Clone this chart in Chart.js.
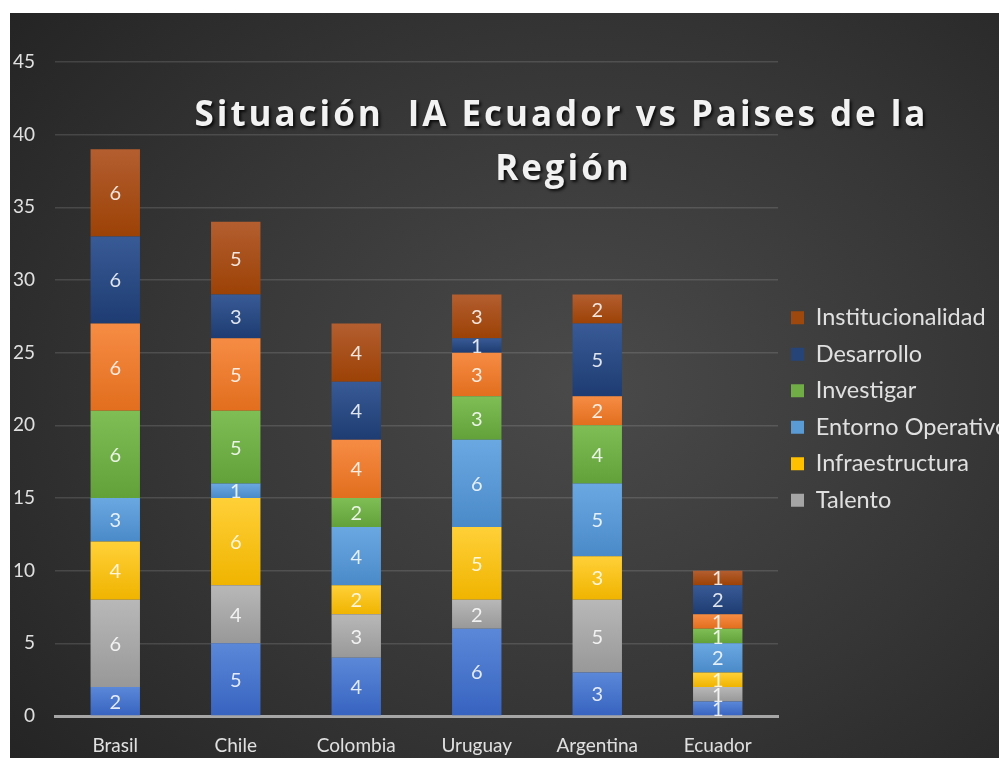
<!DOCTYPE html>
<html>
<head>
<meta charset="utf-8">
<script src="https://cdn.jsdelivr.net/npm/chart.js@4.4.1/dist/chart.umd.min.js"></script>
<style>
  body { margin: 0; background: #ffffff; }
  #marco {
    position: absolute; left: 10px; top: 13px; width: 989px; height: 745px;
    background: radial-gradient(ellipse 75% 80% at 58% 50%, #4a4a4a 0%, #363636 55%, #242424 100%);
  }
</style>
</head>
<body>
<div id="marco"><canvas id="grafIA" width="989" height="745"></canvas></div>
<script>
// Datos del grafico (de abajo hacia arriba en cada barra)
var paises = ['Brasil', 'Chile', 'Colombia', 'Uruguay', 'Argentina', 'Ecuador'];
var serieBase = [2, 5, 4, 6, 3, 1];          // sin nombre en la leyenda
var talento = [6, 4, 3, 2, 5, 1];
var infraestructura = [4, 6, 2, 5, 3, 1];
var entornoOperativo = [3, 1, 4, 6, 5, 2];
var investigar = [6, 5, 2, 3, 4, 1];
var serieNaranja = [6, 5, 4, 3, 2, 1];       // sin nombre en la leyenda
var desarrollo = [6, 3, 4, 1, 5, 2];
var institucionalidad = [6, 5, 4, 3, 2, 1];
var ticksY = [0, 5, 10, 15, 20, 25, 30, 35, 40, 45];

var fuente = 'Lato, "Open Sans", sans-serif';
var gris = '#e0e0e0';

// degradado vertical por segmento, estilo Excel
function relleno(arriba, abajo) {
    return function (c) {
        var chart = c.chart;
        var y = chart.scales && chart.scales.y;
        if (c.type !== 'data' || !y || !chart.chartArea) return abajo;
        var inicio = 0;
        for (var k = 0; k < c.datasetIndex; k++) inicio += chart.data.datasets[k].data[c.dataIndex];
        var fin = inicio + c.raw;
        var g = chart.ctx.createLinearGradient(0, y.getPixelForValue(fin), 0, y.getPixelForValue(inicio));
        g.addColorStop(0, arriba);
        g.addColorStop(1, abajo);
        return g;
    };
}

function serie(nombre, datos, arriba, abajo, solido) {
    return { label: nombre, data: datos, backgroundColor: relleno(arriba, abajo), solido: solido };
}

// etiquetas de valor dentro de cada segmento
var etiquetas = {
    id: 'etiquetas',
    afterDatasetsDraw: function (chart) {
        var ctx = chart.ctx;
        ctx.save();
        ctx.font = '20px ' + fuente;
        ctx.fillStyle = 'rgba(255,255,255,0.85)';
        ctx.textAlign = 'center';
        ctx.textBaseline = 'middle';
        chart.data.datasets.forEach(function (ds, i) {
            chart.getDatasetMeta(i).data.forEach(function (el, j) {
                ctx.fillText(ds.data[j], el.x, (el.y + el.base) / 2 + 1);
            });
        });
        ctx.restore();
    }
};

// titulo superpuesto dentro del area del grafico
var lineasTitulo = ['Situación  IA Ecuador vs Paises de la', 'Región'];
var titulo = {
    id: 'titulo',
    afterDraw: function (chart) {
        var ctx = chart.ctx;
        ctx.save();
        ctx.font = 'bold 35px "Open Sans", Lato, sans-serif';
        // espaciado para que la primera linea ocupe ~734px como en el original
        var ancho = ctx.measureText(lineasTitulo[0]).width;
        var esp = Math.max(0, (734 - ancho) / lineasTitulo[0].length);
        ctx.letterSpacing = esp.toFixed(2) + 'px';
        ctx.fillStyle = '#f2f2f2';
        ctx.textAlign = 'center';
        ctx.textBaseline = 'middle';
        ctx.shadowColor = 'rgba(0,0,0,0.8)';
        ctx.shadowOffsetX = 2;
        ctx.shadowOffsetY = 2;
        ctx.shadowBlur = 3;
        ctx.fillText(lineasTitulo[0], 550 + esp / 2, 103);
        ctx.fillText(lineasTitulo[1], 552 + esp / 2, 157);
        ctx.restore();
    }
};

var ctxG = document.getElementById('grafIA').getContext('2d');
var chart = new Chart(ctxG, {
    type: 'bar',
    data: {
        labels: paises,
        datasets: [
            serie('', serieBase, '#5b88d8', '#3763c0', '#4472c4'),
            serie('Talento', talento, '#b8b8b8', '#989898', '#a5a5a5'),
            serie('Infraestructura', infraestructura, '#ffd038', '#f0b400', '#ffc000'),
            serie('Entorno Operativo', entornoOperativo, '#6aa8e2', '#4a8ac8', '#5b9bd5'),
            serie('Investigar', investigar, '#7fbd55', '#62a03a', '#70ad47'),
            serie('', serieNaranja, '#f68c44', '#e26e1e', '#ed7d31'),
            serie('Desarrollo', desarrollo, '#385a96', '#1e3c72', '#264478'),
            serie('Institucionalidad', institucionalidad, '#b45e30', '#9c4206', '#9e480e')
        ]
    },
    options: {
        responsive: false,
        animation: false,
        layout: { padding: { left: 3, right: 0, top: 49, bottom: 2 } },
        datasets: { bar: { categoryPercentage: 1, barPercentage: 0.41 } },
        scales: {
            x: {
                stacked: true,
                afterFit: function (s) { s.height = 40; },
                grid: { display: false, drawTicks: false },
                border: { color: '#a6a6a6', width: 3 },
                ticks: { color: gris, font: { family: fuente, size: 19 }, padding: 18 }
            },
            y: {
                stacked: true,
                min: 0,
                max: 45,
                afterFit: function (s) { s.width = 42; },
                afterBuildTicks: function (ax) { ax.ticks = ticksY.map(function (v) { return { value: v }; }); },
                grid: { color: 'rgba(255,255,255,0.13)', lineWidth: 1.5, drawTicks: false },
                border: { display: false },
                ticks: { color: gris, font: { family: fuente, size: 19 }, padding: 20 }
            }
        },
        plugins: {
            tooltip: { enabled: false },
            legend: {
                position: 'right',
                maxWidth: 221,
                labels: {
                    color: gris,
                    font: { family: fuente, size: 23.5 },
                    boxWidth: 13,
                    boxHeight: 13,
                    padding: 13,
                    generateLabels: function (ch) {
                        return ch.data.datasets.map(function (ds, i) {
                            return { text: ds.label, fillStyle: ds.solido, strokeStyle: ds.solido, lineWidth: 0, datasetIndex: i, fontColor: gris };
                        }).filter(function (it) { return it.text; }).reverse();
                    }
                }
            }
        }
    },
    plugins: [etiquetas, titulo]
});
</script>
</body>
</html>
